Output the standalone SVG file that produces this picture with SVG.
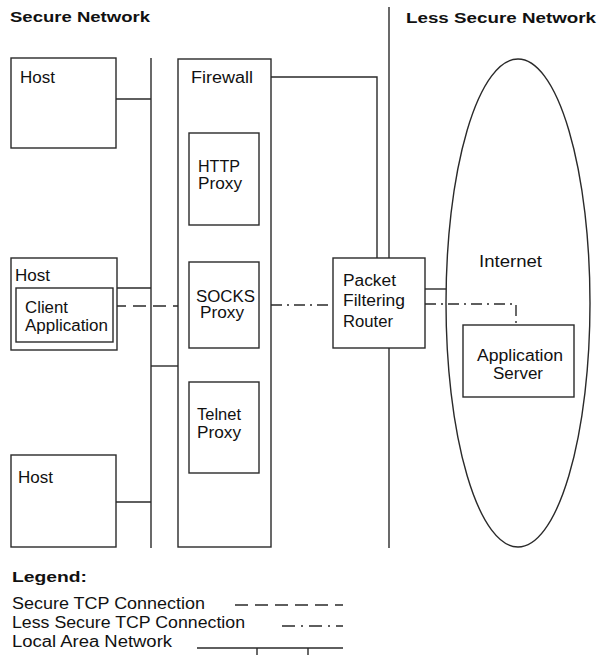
<svg xmlns="http://www.w3.org/2000/svg" width="602" height="655" viewBox="0 0 602 655">
<style>
  .box { fill: #fff; stroke: #2a2a2a; stroke-width: 1.4; }
  .ln { fill: none; stroke: #2a2a2a; stroke-width: 1.4; }
  .sec { fill: none; stroke: #2a2a2a; stroke-width: 1.4; stroke-dasharray: 13 7; }
  .less { fill: none; stroke: #2a2a2a; stroke-width: 1.4; stroke-dasharray: 11 5 2 5; }
  .t { font-family: "Liberation Sans", Arial, sans-serif; font-size: 16px; fill: #111; }
  .h { font-family: "Liberation Sans", Arial, sans-serif; font-size: 15px; font-weight: bold; fill: #111; }
</style>
<rect width="602" height="655" fill="#fff"/>

<g id="titles">
  <text class="h" x="10" y="22" textLength="140" lengthAdjust="spacingAndGlyphs">Secure Network</text>
  <text class="h" x="406" y="23" textLength="190" lengthAdjust="spacingAndGlyphs">Less Secure Network</text>
</g>

<g id="connectors">
  <!-- LAN backbone -->
  <line class="ln" x1="151" y1="58" x2="151" y2="548"/>
  <line class="ln" x1="116" y1="99" x2="151" y2="99"/>
  <line class="ln" x1="117" y1="288" x2="151" y2="288"/>
  <line class="ln" x1="116" y1="502" x2="151" y2="502"/>
  <line class="ln" x1="151" y1="366" x2="178" y2="366"/>
  <!-- divider -->
  <line class="ln" x1="389" y1="7" x2="389" y2="548"/>
  <!-- firewall to router -->
  <polyline class="ln" points="271,77 377,77 377,258"/>
  <!-- router to internet -->
  <line class="ln" x1="425" y1="289" x2="446" y2="289"/>
  <!-- secure TCP connection -->
  <line class="sec" x1="113" y1="306" x2="189" y2="306"/>
  <!-- less secure TCP connection -->
  <line class="less" x1="248" y1="305" x2="333" y2="305"/>
  <polyline class="less" points="425,304 516,304 516,325"/>
</g>

<g id="host1">
  <rect class="box" x="11" y="58" width="105" height="90"/>
  <text class="t" x="20" y="83" textLength="35" lengthAdjust="spacingAndGlyphs">Host</text>
</g>

<g id="host2">
  <rect class="box" x="11" y="258" width="106" height="92"/>
  <text class="t" x="15" y="281" textLength="35" lengthAdjust="spacingAndGlyphs">Host</text>
</g>

<g id="client-application">
  <rect class="box" x="16" y="288" width="97" height="54"/>
  <text class="t" x="25" y="313" textLength="43" lengthAdjust="spacingAndGlyphs">Client</text>
  <text class="t" x="25" y="331" textLength="83" lengthAdjust="spacingAndGlyphs">Application</text>
</g>

<g id="host3">
  <rect class="box" x="11" y="455" width="105" height="92"/>
  <text class="t" x="18" y="483" textLength="35" lengthAdjust="spacingAndGlyphs">Host</text>
</g>

<g id="firewall">
  <rect class="box" x="178" y="59" width="93" height="488"/>
  <text class="t" x="191" y="83" textLength="62" lengthAdjust="spacingAndGlyphs">Firewall</text>
</g>

<g id="http-proxy">
  <rect class="box" x="189" y="133" width="70" height="92"/>
  <text class="t" x="198" y="172" textLength="42" lengthAdjust="spacingAndGlyphs">HTTP</text>
  <text class="t" x="198" y="189" textLength="44" lengthAdjust="spacingAndGlyphs">Proxy</text>
</g>

<g id="socks-proxy">
  <rect class="box" x="189" y="262" width="70" height="86"/>
  <text class="t" x="196" y="302" textLength="59" lengthAdjust="spacingAndGlyphs">SOCKS</text>
  <text class="t" x="200" y="318" textLength="44" lengthAdjust="spacingAndGlyphs">Proxy</text>
</g>

<g id="telnet-proxy">
  <rect class="box" x="189" y="382" width="70" height="91"/>
  <text class="t" x="197" y="420" textLength="44" lengthAdjust="spacingAndGlyphs">Telnet</text>
  <text class="t" x="197" y="438" textLength="44" lengthAdjust="spacingAndGlyphs">Proxy</text>
</g>

<g id="router">
  <rect class="box" x="333" y="258" width="92" height="90"/>
  <text class="t" x="343" y="286" textLength="53" lengthAdjust="spacingAndGlyphs">Packet</text>
  <text class="t" x="343" y="306" textLength="62" lengthAdjust="spacingAndGlyphs">Filtering</text>
  <text class="t" x="343" y="327" textLength="50" lengthAdjust="spacingAndGlyphs">Router</text>
</g>

<g id="internet">
  <ellipse class="ln" cx="518" cy="303" rx="72" ry="244"/>
  <text class="t" x="479" y="267" textLength="63" lengthAdjust="spacingAndGlyphs">Internet</text>
</g>

<g id="application-server">
  <rect class="box" x="463" y="325" width="111" height="72"/>
  <text class="t" x="477" y="361" textLength="86" lengthAdjust="spacingAndGlyphs">Application</text>
  <text class="t" x="493" y="379" textLength="50" lengthAdjust="spacingAndGlyphs">Server</text>
</g>

<g id="legend">
  <text class="h" x="12" y="582" textLength="75" lengthAdjust="spacingAndGlyphs">Legend:</text>
  <text class="t" x="12" y="609" textLength="193" lengthAdjust="spacingAndGlyphs">Secure TCP Connection</text>
  <text class="t" x="12" y="628" textLength="233" lengthAdjust="spacingAndGlyphs">Less Secure TCP Connection</text>
  <text class="t" x="12" y="647" textLength="160" lengthAdjust="spacingAndGlyphs">Local Area Network</text>
  <line class="sec" x1="235" y1="605" x2="343" y2="605"/>
  <line class="ln" x1="282" y1="626" x2="343" y2="626" stroke-dasharray="13 6 2 6"/>
  <line class="ln" x1="197" y1="648" x2="343" y2="648"/>
  <line class="ln" x1="257" y1="648" x2="257" y2="655"/>
  <line class="ln" x1="308" y1="648" x2="308" y2="655"/>
</g>
</svg>
